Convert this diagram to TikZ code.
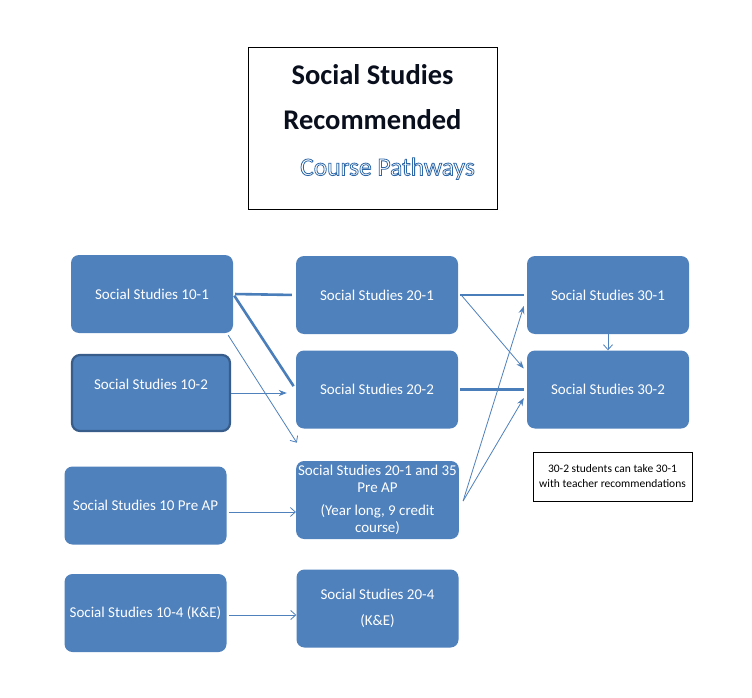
\documentclass[tikz,border=0pt]{standalone}
\usepackage{fontspec}
\setmainfont{Carlito}
\usetikzlibrary{arrows.meta,calc}
\definecolor{SSBlue}{HTML}{4F81BD}
\definecolor{SSEdge}{HTML}{385D8A}
\definecolor{SSLine}{HTML}{4A7EBB}
\definecolor{SSTitle}{HTML}{2E67A8}
\definecolor{SSInk}{HTML}{0A0F1E}
\newcommand\hollow[1]{\special{pdf:literal direct 1 Tr 0.8 w}#1\special{pdf:literal direct 0 Tr}}
\tikzset{
  course/.style={fill=SSBlue,rounded corners=8pt,text=white,minimum width=162pt,
                 minimum height=78pt,align=center,inner sep=2pt,
                 font=\fontsize{15}{16.5}\selectfont},
  courseedge/.style={course,draw=SSEdge,line width=2.2pt},
  flow/.style={-{Stealth[length=8pt,width=6pt]},SSBlue,line width=0.8pt},
  flowopen/.style={-{Straight Barb[length=5pt,width=9pt]},SSBlue,line width=0.8pt},
  bar/.style={SSLine,line width=2.6pt},
  notebox/.style={draw=black,line width=0.8pt,fill=white,minimum width=159pt,
                  minimum height=49pt,align=center,font=\fontsize{11.5}{15}\selectfont},
  titlebox/.style={draw=black,line width=1pt,minimum width=249pt,minimum height=161pt},
  titletext/.style={align=center,text=SSInk,font=\fontsize{28.5}{45.5}\selectfont},
}
\begin{document}
\begin{tikzpicture}[x=1pt,y=-1pt]
  \useasboundingbox[fill=white] (0,0) rectangle (752,698);

  % heading
  \node[titlebox] (title) at (372.5,128.5) {};
  \node[titletext] (head) at (372.5,122)
    {\bfseries Social Studies\\
     \bfseries Recommended\\
     \hspace*{30pt}{\fontsize{25.5}{45.5}\selectfont\color{SSTitle}\hollow{Course Pathways}}};

  % courses
  \node[course] (ss101) at (152,294) {Social Studies 10-1};
  \node[course] (ss201) at (377,295) {Social Studies 20-1};
  \node[course] (ss301) at (608,295) {Social Studies 30-1};
  \node[courseedge,minimum width=158pt,minimum height=76pt,text depth=17pt]
    (ss102) at (151,393) {Social Studies 10-2};
  \node[course] (ss202) at (377,389.5) {Social Studies 20-2};
  \node[course] (ss302) at (608,389.5) {Social Studies 30-2};
  \node[course] (ss10ap) at (145.5,505.5) {Social Studies 10 Pre AP};
  \node[course] (ss20ap) at (377.5,500)
    {Social Studies 20-1 and 35\\Pre AP\\[7pt](Year long, 9 credit\\course)};
  \node[course] (ss104) at (145.5,613) {Social Studies 10-4 (K\&E)};
  \node[course] (ss204) at (377.5,608.5) {Social Studies 20-4\\[9pt](K\&E)};

  \node[notebox] (note) at (612.5,476.5)
    {30-2 students can take 30-1\\with teacher recommendations};

  % pathways
  \coordinate (gap) at ($(ss202.south west)+(1,14)$);
  \draw[bar,shorten <=2pt,shorten >=4pt] (ss101.east) -- (ss201.west);
  \draw[bar,shorten <=2pt,shorten >=4pt] (ss101.east) -- (ss202.west);
  \draw[flowopen] ([xshift=-5pt,yshift=-2pt]ss101.south east) -- (gap);
  \draw[flow,shorten >=9pt] (ss102.east) -- (ss102.east -| ss202.west);
  \draw[bar,shorten <=2pt,shorten >=3pt] (ss201.east) -- (ss301.west);
  \draw[flow] ([xshift=3pt]ss201.east) -- ([xshift=-3pt,yshift=21pt]ss302.west);
  \draw[bar,shorten <=2pt,shorten >=3pt] (ss202.east) -- (ss302.west);
  \draw[flowopen] (ss301.south) -- (ss302.north);
  \draw[flow] ([xshift=4pt,yshift=-1pt]ss20ap.east) -- ([xshift=-3pt,yshift=-11pt]ss301.west);
  \draw[flow] ([xshift=4pt,yshift=-1pt]ss20ap.east) -- ([xshift=-3pt,yshift=-8.5pt]ss302.west);
  \draw[flowopen] ([xshift=2pt,yshift=-6.5pt]ss10ap.east) -- ([yshift=-12pt]ss20ap.west);
  \draw[flowopen] ([xshift=2pt,yshift=-2pt]ss104.east) -- ([yshift=-6.5pt]ss204.west);
\end{tikzpicture}
\end{document}
